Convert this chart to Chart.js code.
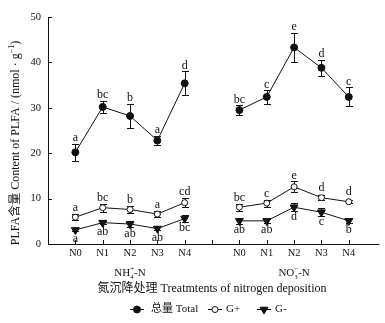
<!DOCTYPE html>
<html><head><meta charset="utf-8">
<script src="https://cdn.jsdelivr.net/npm/chart.js@4.4.1/dist/chart.umd.min.js"></script>
<style>html,body{margin:0;padding:0;background:#fff}#wrap{width:385px;height:323px;position:relative}</style>
</head><body><div id="wrap"><canvas id="c"></canvas></div>
<script>
// ---- data ----
const categories = ['N0', 'N1', 'N2', 'N3', 'N4'];
const seriesNames = ['总量 Total', 'G+', 'G-'];
const yTicks = [0, 10, 20, 30, 40, 50];

const totalNH4 = [20.2, 30.2, 28.2, 22.8, 35.4];
const totalNH4Err = [1.9, 1.3, 2.7, 1.0, 2.6];
const totalNO3 = [29.5, 32.4, 43.3, 38.8, 32.4];
const totalNO3Err = [1.1, 1.5, 3.2, 1.8, 2.1];

const gPosNH4 = [5.9, 8.0, 7.6, 6.6, 9.1];
const gPosNH4Err = [0.7, 0.85, 0.85, 0.6, 1.05];
const gPosNO3 = [8.1, 9.0, 12.6, 10.2, 9.3];
const gPosNO3Err = [0.8, 0.8, 1.2, 0.6, 0.3];

const gNegNH4 = [3.1, 4.7, 4.4, 3.4, 5.6];
const gNegNH4Err = [0.3, 0.3, 0.6, 0.3, 0.8];
const gNegNO3 = [5.1, 5.1, 8.1, 7.0, 5.1];
const gNegNO3Err = [0.6, 0.4, 0.9, 0.9, 0.4];

const totalNH4Letters = ['a', 'bc', 'b', 'a', 'd'];
const totalNO3Letters = ['bc', 'c', 'e', 'd', 'c'];
const gPosNH4Letters = ['a', 'bc', 'b', 'a', 'cd'];
const gPosNO3Letters = ['bc', 'c', 'e', 'd', 'd'];
const gNegNH4Letters = ['a', 'ab', 'ab', 'ab', 'bc'];
const gNegNO3Letters = ['ab', 'ab', 'd', 'c', 'b'];

// ---- helpers ----
const SERIF = '"Liberation Serif", "Times New Roman", "Noto Sans CJK SC", serif';
const INK = '#111';
const GROUP_STEP = categories.length + 1;
function pts(vals, group) { return vals.map((v, i) => ({ x: group * GROUP_STEP + i, y: v })); }

const styles = {
  total: { pointStyle: 'circle', pointRadius: 3.5, pointBackgroundColor: INK, pointRotation: 0 },
  gpos: { pointStyle: 'circle', pointRadius: 3, pointBackgroundColor: '#fff', pointRotation: 0 },
  gneg: { pointStyle: 'triangle', pointRadius: 4.6, pointBackgroundColor: INK, pointRotation: 180 }
};
function ds(label, vals, errs, letters, group, kind, below) {
  const s = styles[kind];
  return Object.assign({
    label, data: pts(vals, group), showLine: true, borderColor: INK, borderWidth: 1,
    pointBorderColor: INK, pointBorderWidth: 1, pointHoverRadius: s.pointRadius,
    errors: errs, letters, below, kind
  }, s);
}

const datasets = [
  ds(seriesNames[0], totalNH4, totalNH4Err, totalNH4Letters, 0, 'total', false),
  ds(seriesNames[0], totalNO3, totalNO3Err, totalNO3Letters, 1, 'total', false),
  ds(seriesNames[1], gPosNH4, gPosNH4Err, gPosNH4Letters, 0, 'gpos', false),
  ds(seriesNames[1], gPosNO3, gPosNO3Err, gPosNO3Letters, 1, 'gpos', false),
  ds(seriesNames[2], gNegNH4, gNegNH4Err, gNegNH4Letters, 0, 'gneg', true),
  ds(seriesNames[2], gNegNO3, gNegNO3Err, gNegNO3Letters, 1, 'gneg', true)
];

function drawChem(ctx, parts, cx, cy, size) {
  // parts: [text, sub, sup] triples
  ctx.save();
  ctx.font = size + 'px ' + SERIF;
  const small = (size * 0.62) + 'px ' + SERIF;
  let w = 0;
  const widths = parts.map(p => {
    ctx.font = size + 'px ' + SERIF;
    const a = ctx.measureText(p[0]).width;
    ctx.font = small;
    const b = Math.max(p[1] ? ctx.measureText(p[1]).width : 0, p[2] ? ctx.measureText(p[2]).width : 0);
    return [a, b];
  });
  widths.forEach(x => w += x[0] + x[1]);
  let x = cx - w / 2;
  ctx.textBaseline = 'alphabetic';
  ctx.textAlign = 'left';
  ctx.fillStyle = INK;
  const base = cy + size * 0.35;
  parts.forEach((p, i) => {
    ctx.font = size + 'px ' + SERIF;
    ctx.fillText(p[0], x, base);
    x += widths[i][0];
    ctx.font = small;
    if (p[1]) ctx.fillText(p[1], x, base + size * 0.25);
    if (p[2]) ctx.fillText(p[2], x, base - size * 0.42);
    x += widths[i][1];
  });
  ctx.restore();
}

const decor = {
  id: 'decor',
  beforeDatasetsDraw(chart) {
    const ctx = chart.ctx, xs = chart.scales.x, ys = chart.scales.y;
    ctx.save();
    ctx.strokeStyle = INK; ctx.lineWidth = 1;
    chart.data.datasets.forEach(d => {
      d.data.forEach((p, i) => {
        const px = Math.round(xs.getPixelForValue(p.x)) + 0.5;
        const t = Math.round(ys.getPixelForValue(p.y + d.errors[i])) + 0.5;
        const b = Math.round(ys.getPixelForValue(p.y - d.errors[i])) + 0.5;
        ctx.beginPath();
        ctx.moveTo(px, t); ctx.lineTo(px, b);
        ctx.moveTo(px - 3.5, t); ctx.lineTo(px + 3.5, t);
        ctx.moveTo(px - 3.5, b); ctx.lineTo(px + 3.5, b);
        ctx.stroke();
      });
    });
    ctx.restore();
  },
  afterDraw(chart) {
    const ctx = chart.ctx, xs = chart.scales.x, ys = chart.scales.y, ca = chart.chartArea;
    ctx.save();
    ctx.strokeStyle = INK; ctx.lineWidth = 1;
    // axes
    ctx.beginPath();
    ctx.moveTo(ca.left + 0.5, ca.top); ctx.lineTo(ca.left + 0.5, ca.bottom + 0.5);
    ctx.lineTo(ca.right, ca.bottom + 0.5);
    // inward ticks
    yTicks.forEach(v => {
      const y = Math.round(ys.getPixelForValue(v)) + 0.5;
      ctx.moveTo(ca.left, y); ctx.lineTo(ca.left + 4, y);
    });
    for (let v = 0; v < 2 * GROUP_STEP - 1; v++) {
      const x = Math.round(xs.getPixelForValue(v)) + 0.5;
      ctx.moveTo(x, ca.bottom); ctx.lineTo(x, ca.bottom - 4);
    }
    ctx.stroke();

    // significance letters
    ctx.fillStyle = INK;
    ctx.font = '12px ' + SERIF;
    ctx.textAlign = 'center';
    ctx.textBaseline = 'alphabetic';
    chart.data.datasets.forEach(d => {
      d.data.forEach((p, i) => {
        const px = xs.getPixelForValue(p.x);
        const py = ys.getPixelForValue(p.y);
        if (d.below) {
          const b = Math.max(ys.getPixelForValue(p.y - d.errors[i]), py + 4);
          ctx.fillText(d.letters[i], px, b + 8.5);
        } else {
          const t = Math.min(ys.getPixelForValue(p.y + d.errors[i]), py - 4);
          ctx.fillText(d.letters[i], px, t - 2.5);
        }
      });
    });

    // group labels
    drawChem(ctx, [['NH', '4', '+'], ['-N', '', '']], xs.getPixelForValue(2), 272, 11);
    drawChem(ctx, [['NO', '3', '\u2212'], ['-N', '', '']], xs.getPixelForValue(GROUP_STEP + 2), 272, 11);

    // x title
    ctx.font = '12px ' + SERIF;
    ctx.textAlign = 'center';
    ctx.textBaseline = 'middle';
    ctx.fillText('氮沉降处理 Treatmtents of nitrogen deposition', xs.getPixelForValue(GROUP_STEP - 1), 289);

    // y title
    ctx.save();
    ctx.translate(15, 143);
    ctx.rotate(-Math.PI / 2);
    const mainT = 'PLFA含量 Content of PLFA / (nmol · g';
    ctx.font = '12px ' + SERIF;
    const w1 = ctx.measureText(mainT).width;
    ctx.font = '8px ' + SERIF;
    const w2 = ctx.measureText('\u22121').width;
    ctx.font = '12px ' + SERIF;
    const w3 = ctx.measureText(')').width;
    let x0 = -(w1 + w2 + w3) / 2;
    ctx.textAlign = 'left'; ctx.textBaseline = 'alphabetic';
    ctx.fillText(mainT, x0, 4);
    ctx.font = '8px ' + SERIF;
    ctx.fillText('\u22121', x0 + w1, -1);
    ctx.font = '12px ' + SERIF;
    ctx.fillText(')', x0 + w1 + w2, 4);
    ctx.restore();

    // legend
    const ly = 309;
    const legendX = [130, 208, 257];
    const kinds = ['total', 'gpos', 'gneg'];
    kinds.forEach((k, i) => {
      const x = legendX[i];
      ctx.beginPath();
      ctx.moveTo(x, ly + 0.5); ctx.lineTo(x + 14, ly + 0.5);
      ctx.stroke();
      const s = styles[k];
      ctx.fillStyle = s.pointBackgroundColor;
      Chart.helpers.drawPoint(ctx, { pointStyle: s.pointStyle, radius: s.pointRadius, rotation: s.pointRotation, borderWidth: 1 }, x + 7, ly + 0.5);
      ctx.fillStyle = INK;
      ctx.font = '11px ' + SERIF;
      ctx.textAlign = 'left'; ctx.textBaseline = 'middle';
      ctx.fillText(seriesNames[i], x + 18 + (i === 0 ? 3 : 0), ly + 0.5);
    });
    ctx.restore();
  }
};

new Chart(document.getElementById('c'), {
  type: 'scatter',
  data: { datasets },
  options: {
    responsive: true, maintainAspectRatio: false, animation: false,
    devicePixelRatio: 1,
    layout: { padding: { top: 17, right: 0, left: 0, bottom: 0 } },
    plugins: { legend: { display: false }, tooltip: { enabled: false } },
    scales: {
      x: {
        type: 'linear', min: -1, max: 11.12,
        afterFit: s => { s.height = 79; },
        afterBuildTicks: s => { s.ticks = []; for (let v = 0; v < 2 * GROUP_STEP - 1; v++) s.ticks.push({ value: v }); },
        grid: { display: false, drawTicks: false }, border: { display: false },
        ticks: {
          autoSkip: false, maxRotation: 0, padding: 3, color: INK,
          font: { family: SERIF, size: 10.5 },
          callback: v => { const i = v % GROUP_STEP; return (v >= 0 && i < categories.length) ? categories[i] : ''; }
        }
      },
      y: {
        min: 0, max: 50,
        afterFit: s => { s.width = 48; },
        afterBuildTicks: s => { s.ticks = yTicks.map(v => ({ value: v })); },
        grid: { display: false, drawTicks: false }, border: { display: false },
        ticks: { padding: 7, color: INK, font: { family: SERIF, size: 10.5 } }
      }
    }
  },
  plugins: [decor]
});
</script>
</body></html>
